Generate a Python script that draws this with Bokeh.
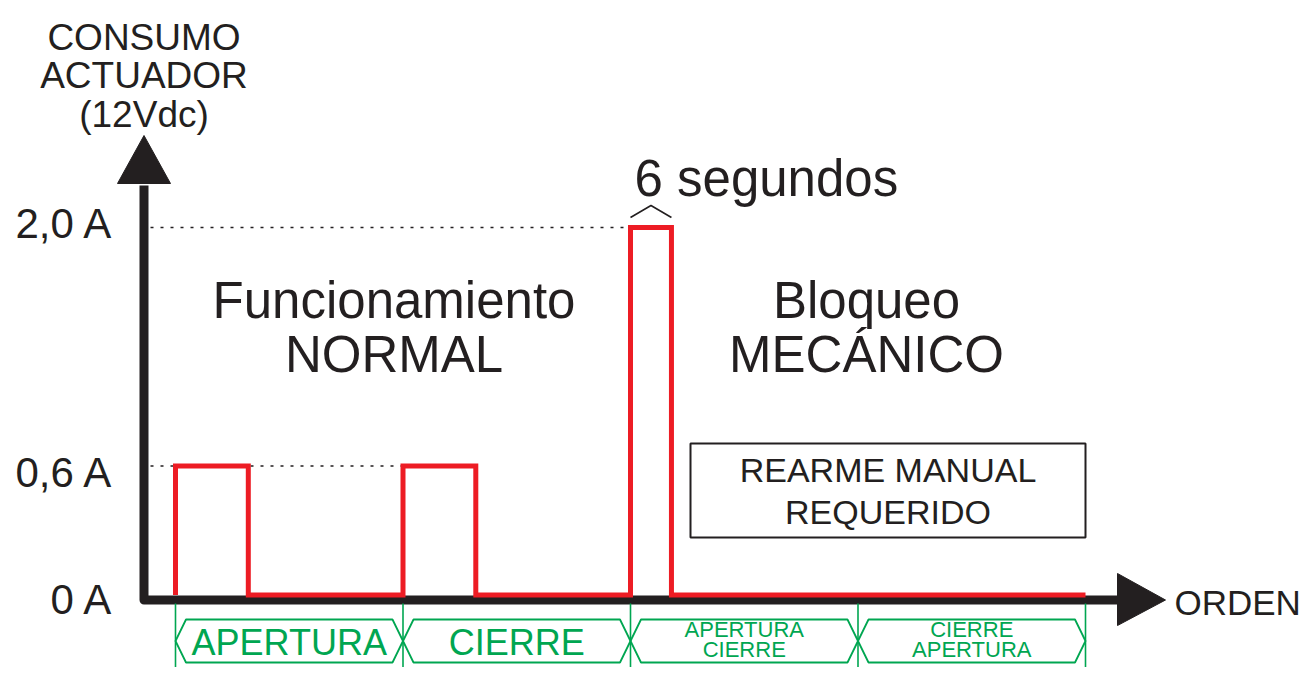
import numpy as np
from bokeh.plotting import figure
from bokeh.models import Range1d, Label
from bokeh.embed import file_html
from bokeh.resources import INLINE

# ------------------------------------------------------------------ data
ORDER_LABELS = [["APERTURA"], ["CIERRE"], ["APERTURA", "CIERRE"], ["CIERRE", "APERTURA"]]
PULSE_START = [0.0, 1.0, 2.0]        # in "orden" units (one unit per command)
PULSE_LENGTH = [0.32, 0.32, 0.18]
PULSE_AMPS = [0.6, 0.6, 2.0]
TRACE_END = 4.0
LEVEL_AMPS = [0.0, 0.6, 2.0]
LEVEL_LABELS = ["0 A", "0,6 A", "2,0 A"]
Y_TITLE = ["CONSUMO", "ACTUADOR", "(12Vdc)"]
X_TITLE = "ORDEN"
PULSE_NOTE = "6 segundos"
ZONE_TITLES = [["Funcionamiento", "NORMAL"], ["Bloqueo", "MECÁNICO"]]
BOX_TEXT = ["REARME MANUAL", "REQUERIDO"]

# schematic (not-to-scale) vertical axis: amps -> drawing height
SCALE_AMPS = [0.0, 0.6, 2.0]
SCALE_HEIGHT = [0.0, 129.0, 367.5]


def yscale(a):
    return np.interp(a, SCALE_AMPS, SCALE_HEIGHT)


# layout helpers (drawing frame)
UNIT = 227.5
X0 = 175.0
Y0 = 594.5


def X(px):
    return (px - X0) / UNIT


def Y(py):
    return Y0 - py


INK = "#231f20"
RED = "#ed1c24"
GREEN = "#00a651"
FONT = "Liberation Sans"

W, H = 1301, 667
p = figure(width=W, height=H,
           x_range=Range1d(X(0), X(W)), y_range=Range1d(Y(H), Y(0)),
           x_axis_type=None, y_axis_type=None, toolbar_location=None,
           output_backend="svg", min_border=0, outline_line_color=None,
           background_fill_color="white", border_fill_color="white")

# ------------------------------------------------------------------ axes
ax_x = X(143.5)
ax_y = Y(599.5)
p.line([X(1120), ax_x, ax_x], [ax_y, ax_y, Y(185)], line_width=9,
       line_color=INK, line_join="round")
p.patch([X(117), ax_x, X(170)], [Y(183), Y(135), Y(183)],
        fill_color=INK, line_color=INK)
p.patch([X(1117), X(1165), X(1117)], [Y(573), ax_y, Y(625)],
        fill_color=INK, line_color=INK)

# dotted guide lines from the axis to the last pulse at each level
for a in LEVEL_AMPS[1:]:
    end = max(s for s, amp in zip(PULSE_START, PULSE_AMPS) if amp == a)
    p.segment(x0=[X(150)], y0=[yscale(a)], x1=[end], y1=[yscale(a)],
              line_color=INK, line_width=1.5, line_dash="3 7")

# ------------------------------------------------------------------ trace
xs, ys = [PULSE_START[0]], [0.0]
for s, l, a in zip(PULSE_START, PULSE_LENGTH, PULSE_AMPS):
    xs += [s, s, s + l, s + l]
    ys += [0.0, a, a, 0.0]
xs.append(TRACE_END)
ys.append(0.0)
p.line(xs, yscale(np.array(ys)), line_color=RED, line_width=5, line_join="miter")

# caret over the long pulse
i_big = int(np.argmax(PULSE_AMPS))
s, l = PULSE_START[i_big], PULSE_LENGTH[i_big]
p.line([s, s + l / 2, s + l], [Y(217), Y(205), Y(217)], line_color=INK, line_width=1.6)


def lab(x, yb, text, size, align="center", color=INK):
    # yb: baseline position (reference px); the label is anchored at cap centre
    p.add_layout(Label(x=x, y=Y(yb - 0.36 * size), text=text, text_font=FONT,
                       text_font_size=f"{size}px", text_color=color,
                       text_align=align, text_baseline="alphabetic"))


lab(X(634), 196, PULSE_NOTE, 51, align="left")

# ------------------------------------------------------------------ texts
for t, yb in zip(Y_TITLE, [50, 88, 127]):
    lab(X(143.5), yb, t, 37)

tick_base = {0.0: 614, 0.6: 487, 2.0: 238}
for a, t in zip(LEVEL_AMPS, LEVEL_LABELS):
    lab(X(113), tick_base[a], t, 42, align="right")

lab(X(1174), 615, X_TITLE, 35, align="left")

for (l1, l2), cx in zip(ZONE_TITLES, [393.5, 866]):
    lab(X(cx), 318, l1, 51)
    lab(X(cx), 372, l2, 51)

p.quad(left=[X(690)], right=[X(1085)], top=[Y(443)], bottom=[Y(537)],
       fill_color=None, line_color=INK, line_width=2)
lab(X(887.5), 482, BOX_TEXT[0], 34)
lab(X(887.5), 524, BOX_TEXT[1], 34)

# ------------------------------------------------------------------ order strip
n = len(ORDER_LABELS)
bounds = list(range(n + 1))
p.segment(x0=bounds, y0=[Y(603)] * len(bounds), x1=bounds, y1=[Y(690)] * len(bounds),
          line_color=GREEN, line_width=1.6)
d = 10.5 / UNIT
yt, yb_, ym = Y(619), Y(662), Y(640.5)
hx, hy = [], []
for i in range(n):
    hx.append([i, i + d, i + 1 - d, i + 1, i + 1 - d, i + d])
    hy.append([ym, yt, yt, ym, yb_, yb_])
p.patches(hx, hy, fill_color=None, line_color=GREEN, line_width=1.8)

for i, lines in enumerate(ORDER_LABELS):
    cx = i + 0.5
    if len(lines) == 1:
        lab(cx, 655, lines[0], 36, color=GREEN)
    else:
        lab(cx, 637, lines[0], 22, color=GREEN)
        lab(cx, 657, lines[1], 22, color=GREEN)

open("out.html", "w").write(file_html(p, INLINE))
